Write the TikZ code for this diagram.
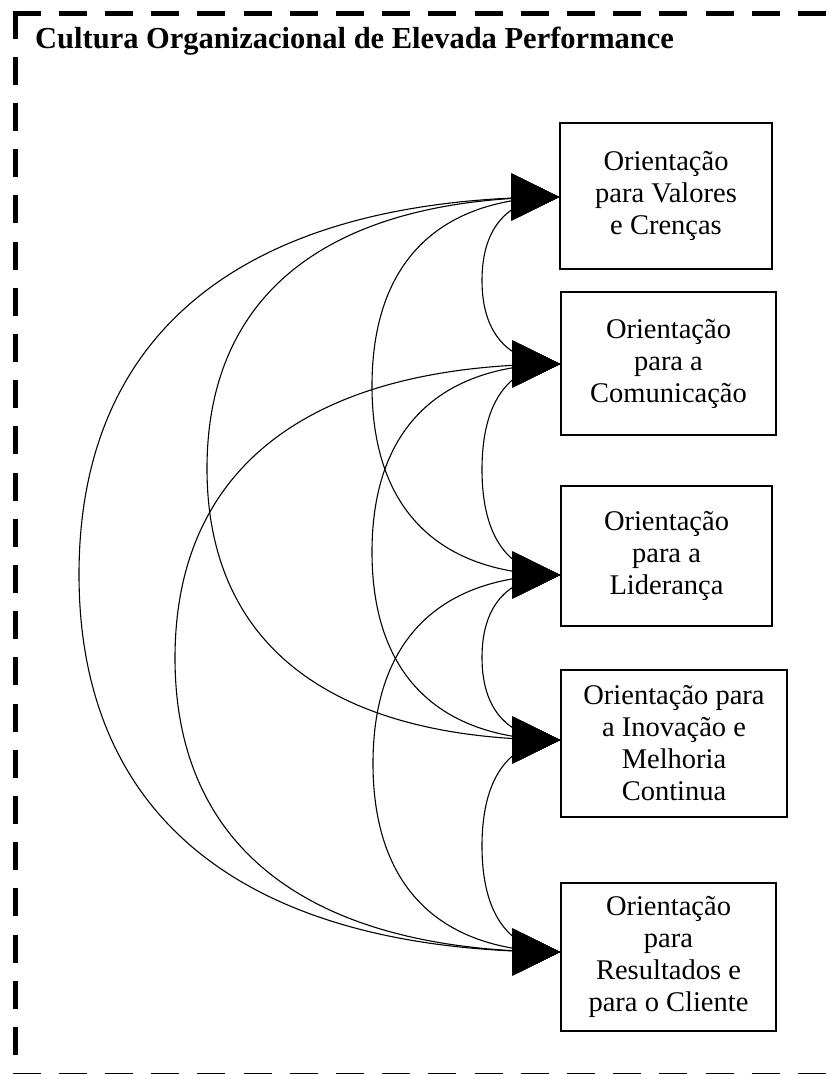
\documentclass[tikz,border=0pt]{standalone}
\usepackage{fontspec}
\setmainfont{Liberation Serif}
\usetikzlibrary{arrows.meta,calc,decorations.markings}

% how far the control points reach towards the corner of each half-curve
\def\curvefac{0.65}

% curved link between two arrow tips, bulging left to x = #3
\newcommand\linkboxes[3]{%
  \draw[link] let \p1=(#1), \p2=(#2), \p3=($(#1)!.5!(#2)$) in
    (#1)
    .. controls ({\x1-\curvefac*(\x1-#3pt)},\y1) and (#3pt,{\y3+\curvefac*(\y1-\y3)}) .. (#3pt,\y3)
    .. controls (#3pt,{\y3+\curvefac*(\y2-\y3)}) and ({\x2-\curvefac*(\x2-#3pt)},\y2) .. (#2);%
}

\tikzset{
  box/.style={draw, line width=1.3pt, align=center, inner sep=0pt,
    font={\fontsize{28.5}{32}\selectfont}},
  headtip/.tip={Triangle[length=48pt,width=47pt]},
  link/.style={line width=1.1pt, postaction={decorate},
    decoration={markings,
      mark=at position 0 with {\arrowreversed{headtip}},
      mark=at position 1 with {\arrow{headtip}}}},
  frame/.style={line width=5pt, dash pattern=on 28pt off 18.2pt},
  title/.style={anchor=base west, inner sep=0pt,
    font={\fontsize{30.5}{36}\selectfont\bfseries}}
}

\begin{document}
\begin{tikzpicture}[x=1pt,y=-1pt]
\clip (0,0) rectangle (827,1074);
\fill[white] (0,0) rectangle (827,1074);

% dashed frame around the whole culture
\draw[frame] (12.5,13) -- (850,13);
\draw[frame] (15,10.5) -- (15,1090);
\draw[frame] (12.5,1075) -- (850,1075);

\node[title] (title) at (35,48) {Cultura Organizacional de Elevada Performance};

% the five orientations
\node[box, minimum width=212pt, minimum height=146pt] (b1) at (666,196)
  {Orientação\\para Valores\\e Crenças};
\node[box, minimum width=215pt, minimum height=143pt] (b2) at (668.5,363.5)
  {Orientação\\para a\\Comunicação};
\node[box, minimum width=211pt, minimum height=140pt] (b3) at (666.5,556)
  {Orientação\\para a\\Liderança};
\node[box, minimum width=226pt, minimum height=147pt] (b4) at (674,743.5)
  {Orientação para\\a Inovação e\\Melhoria\\Continua};
\node[box, minimum width=215pt, minimum height=148pt] (b5) at (668.5,957)
  {Orientação\\para\\Resultados e\\para o Cliente};

% arrow tips on the left side of each box
\coordinate (t1) at ([yshift=-1pt]b1.west);
\coordinate (t2) at ([yshift=-0.5pt]b2.west);
\coordinate (t3) at ([yshift=-19pt]b3.west);
\coordinate (t4) at ([yshift=3.5pt]b4.west);
\coordinate (t5) at ([yshift=5pt]b5.west);

% every pair of orientations is linked
\linkboxes{t1}{t2}{482}
\linkboxes{t2}{t3}{482}
\linkboxes{t3}{t4}{482}
\linkboxes{t4}{t5}{482}
\linkboxes{t1}{t3}{372}
\linkboxes{t2}{t4}{372}
\linkboxes{t3}{t5}{373}
\linkboxes{t1}{t4}{207}
\linkboxes{t2}{t5}{175}
\linkboxes{t1}{t5}{79}
\end{tikzpicture}
\end{document}
